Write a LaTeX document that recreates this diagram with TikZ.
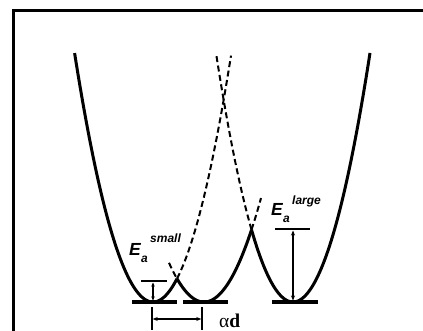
\documentclass[tikz,border=0pt]{standalone}
\usepackage{fontspec}
\setmainfont{Liberation Serif}
\newfontfamily\arialfont{Liberation Sans}
\usetikzlibrary{arrows.meta}
\tikzset{
  well/.style={line width=3pt},
  ext/.style={line width=2pt, dash pattern=on 6pt off 3.5pt},
  bar/.style={line width=3.2pt},
  lvl/.style={line width=2.6pt},
  dim/.style={line width=1.4pt, {Stealth[length=5pt,width=4pt]}-{Stealth[length=5pt,width=4pt]}},
  tick/.style={line width=1.4pt},
  lab/.style={inner sep=0pt, font=\arialfont\bfseries\itshape},
}
\begin{document}
\begin{tikzpicture}[x=1pt,y=-1pt]
\useasboundingbox (0,0) rectangle (423,330);
% frame
\draw[line width=3pt] (13,332) -- (13,10) -- (425,10);
% left well
\draw[well] plot[domain=74.6:177.0, samples=80, smooth] (\x, {302-0.0405*(\x-153)^2});
\draw[ext] plot[domain=177.0:231, samples=60, smooth] (\x, {302-0.0405*(\x-153)^2});
% middle well
\draw[well] plot[domain=177.0:251.5, samples=80, smooth] (\x, {302-0.032*(\x-204)^2});
\draw[ext] plot[domain=169:177.0, samples=10, smooth] (\x, {302-0.032*(\x-204)^2});
\draw[ext] plot[domain=251.5:261, samples=10, smooth] (\x, {302-0.032*(\x-204)^2});
% right well
\draw[well] plot[domain=251.5:370, samples=100, smooth] (\x, {302-0.042*(\x-293)^2});
\draw[ext] plot[domain=216.5:251.5, samples=60, smooth] (\x, {302-0.042*(\x-293)^2});
% baselines
\draw[bar] (132,302) -- (177,302);
\draw[bar] (183,302) -- (228,302);
\draw[bar] (272,302) -- (318,302);
% activation levels
\draw[lvl] (141,281) -- (167,281);
\draw[lvl] (275,229) -- (310,229);
\coordinate (st) at (153,282.5);
\coordinate (sb) at (153,300.5);
\draw[dim,{Stealth[length=4pt,width=3.5pt]}-{Stealth[length=4pt,width=3.5pt]}] (st) -- (sb);
\coordinate (lt) at (293,230.5);
\coordinate (lb) at (293,300.5);
\draw[dim] (lt) -- (lb);
% distance
\coordinate (d1t) at (152,307);
\coordinate (d1b) at (152,330);
\coordinate (d2t) at (202,307);
\coordinate (d2b) at (202,330);
\draw[tick] (d1t) -- (d1b);
\draw[tick] (d2t) -- (d2b);
\coordinate (da) at (152.7,319);
\coordinate (db) at (201.3,319);
\draw[dim] (da) -- (db);
\node[inner sep=0pt, anchor=base west, font=\fontsize{19.5}{19.5}\selectfont] (ad) at (219,327) {α\textbf{d}};
% labels
\node[lab, anchor=base west, font=\arialfont\bfseries\itshape\fontsize{17.5}{17.5}\selectfont] (E1) at (129,255) {E};
\node[lab, anchor=base west, font=\arialfont\bfseries\itshape\fontsize{12}{12}\selectfont] (a1) at (141,262.5) {a};
\node[lab, anchor=base west, font=\arialfont\bfseries\itshape\fontsize{12}{12}\selectfont] (s1) at (150,242) {small};
\node[lab, anchor=base west, font=\arialfont\bfseries\itshape\fontsize{17.5}{17.5}\selectfont] (E2) at (271,215) {E};
\node[lab, anchor=base west, font=\arialfont\bfseries\itshape\fontsize{12}{12}\selectfont] (a2) at (283,222.5) {a};
\node[lab, anchor=base west, font=\arialfont\bfseries\itshape\fontsize{12}{12}\selectfont] (s2) at (292,204) {large};
\end{tikzpicture}
\end{document}
